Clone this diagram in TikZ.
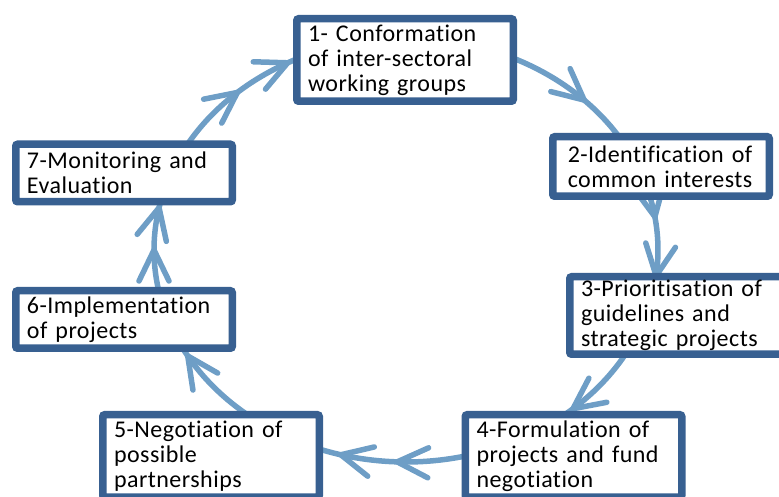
\documentclass[tikz,border=0pt]{standalone}
\usepackage{fontspec}
\setmainfont[LetterSpace=2, Ligatures=NoCommon]{Carlito}
\usepackage{tikz}
\definecolor{boxblue}{RGB}{56,96,145}
\definecolor{ringblue}{RGB}{110,158,198}
\tikzset{
    stepbox/.style={draw=boxblue, line width=7.5, fill=white, rounded corners=2,
        text width=194, inner xsep=11.25, align=left,
        font=\fontsize{24}{25}\selectfont},
    ring/.style={draw=ringblue, line width=5.5},
    chev/.style={draw=ringblue, line width=5.5, line cap=round, line join=round},
}

\begin{document}
\begin{tikzpicture}[x=1pt, y=1pt]
\useasboundingbox (0,0) rectangle (779,497);
\clip (0,0) rectangle (779,497);
\coordinate (c) at (406,247);
% points of the cycle under the boxes
\foreach \i/\a in {1/90, 2/24, 3/-18, 4/-63, 5/-120, 6/-160, 7/-202}
    \path (c) ++(\a:252 and 212) coordinate (p\i);
\draw[ring] (p1) arc[start angle=90, end angle=24, x radius=252, y radius=212];
\draw[ring] (p2) arc[start angle=24, end angle=-18, x radius=252, y radius=212];
\draw[ring] (p3) arc[start angle=-18, end angle=-63, x radius=252, y radius=212];
\draw[ring] (p4) arc[start angle=-63, end angle=-120, x radius=252, y radius=212];
\draw[ring] (p5) arc[start angle=-120, end angle=-160, x radius=252, y radius=212];
\draw[ring] (p6) arc[start angle=-160, end angle=-202, x radius=252, y radius=212];
\draw[ring] (p7) arc[start angle=-202, end angle=-270, x radius=252, y radius=212];
% open heads along the cycle
\foreach \t in {45,9,-7,-48.5,-92,-105,-150,-180,-191.5,-228,-242}{
    \pgfmathsetmacro\dir{atan2(-212*cos(\t),252*sin(\t))}
    \path (c) ++(\t:252 and 212) coordinate (v);
    \draw[chev, shift={(v)}, rotate=\dir] (-31,15) -- (0,0) -- (-31,-15);
}

\node[stepbox, minimum height=82.5] (s1) at (405,437) {1- Conformation\\of inter-sectoral\\working groups};
\node[stepbox, minimum height=59.5, inner xsep=15, text width=186.5] (s2) at (661,330.5) {2-Identification of\\common interests};
\node[stepbox, minimum height=77.5] (s3) at (678,181.5) {3-Prioritisation of\\guidelines and\\strategic projects};
\node[stepbox, minimum height=82.5] (s4) at (573.5,41) {4-Formulation of\\projects and fund\\negotiation};
\node[stepbox, minimum height=82.5] (s5) at (211,41) {5-Negotiation of\\possible\\partnerships};
\node[stepbox, minimum height=57.5] (s6) at (124,177.5) {6-Implementation\\of projects};
\node[stepbox, minimum height=57.5] (s7) at (124,324) {7-Monitoring and\\Evaluation};
\end{tikzpicture}
\end{document}
